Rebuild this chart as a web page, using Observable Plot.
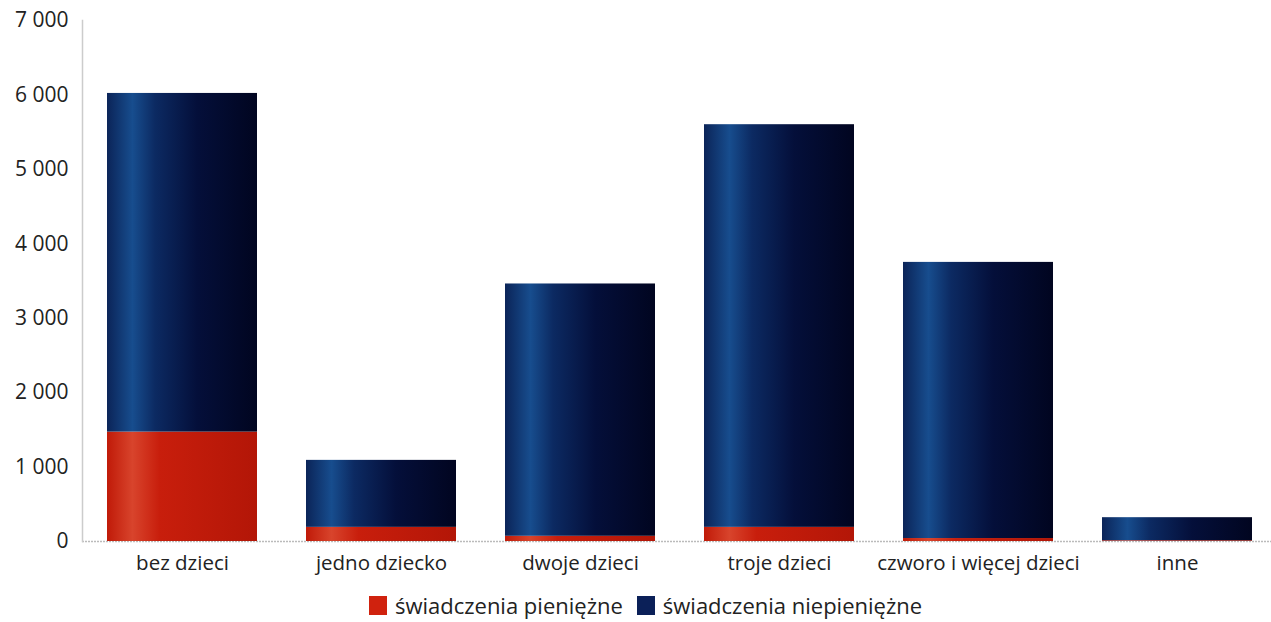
<!DOCTYPE html>
<html><head><meta charset="utf-8">
<script src="https://cdn.jsdelivr.net/npm/d3@7"></script>
<script src="https://cdn.jsdelivr.net/npm/@observablehq/plot@0.6"></script>
<style>
body{margin:0;background:#fff;font-family:"Open Sans",sans-serif;}
#legend{display:flex;justify-content:center;align-items:center;gap:14px;font-size:22px;color:#222;height:34px;margin-left:20px;margin-top:2px}
#legend span.item{display:flex;align-items:center;gap:8px}
#legend span.sw{display:inline-block;width:18px;height:19px}
</style></head><body>
<div id="chart"></div>
<div id="legend"></div>
<script>
const categories = ["bez dzieci","jedno dziecko","dwoje dzieci","troje dzieci","czworo i więcej dzieci","inne"];
const pieniezne = [1470, 190, 70, 190, 40, 10];
const niepieniezne = [4550, 900, 3390, 5410, 3710, 310];
const seriesNames = ["świadczenia pieniężne","świadczenia niepieniężne"];
const yTicks = [0,1000,2000,3000,4000,5000,6000,7000];

const rows = categories.map((c,i)=>({cat:c, p:pieniezne[i], n:niepieniezne[i], total:pieniezne[i]+niepieniezne[i]}));
const fmt = v => d3.format(",")(v).replace(/,/g," ");

const svg = Plot.plot({
  width:1271, height:586,
  marginLeft:82, marginRight:0, marginTop:20, marginBottom:45,
  style:{fontFamily:"Open Sans", fontSize:"20px", color:"#222", background:"transparent"},
  x:{domain:categories, paddingInner:0.246, paddingOuter:0.11, align:0.57, label:null},
  y:{domain:[0,7000], label:null},
  marks:[
    Plot.ruleY([0], {stroke:"#bbb", strokeDasharray:"2,1", strokeWidth:1.5}),
    Plot.barY(rows, {x:"cat", y1:0, y2:"p", fill:"url(#gRed)", inset:0}),
    Plot.barY(rows, {x:"cat", y1:"p", y2:"total", fill:"url(#gBlue)", inset:0}),
    Plot.axisY({ticks:yTicks, tickSize:0, tickPadding:14, tickFormat:fmt, fontSize:21, fill:"#222"}),
    Plot.axisX({tickSize:0, tickPadding:14, fontSize:20.5, fill:"#222"}),
    Plot.frame({anchor:"left", stroke:"#ccc", strokeDasharray:"2,1", strokeWidth:1.5})
  ]
});

const ns = "http://www.w3.org/2000/svg";
const defs = document.createElementNS(ns,"defs");
function grad(id, stops){
  const g = document.createElementNS(ns,"linearGradient");
  g.setAttribute("id",id); g.setAttribute("x1","0"); g.setAttribute("x2","1"); g.setAttribute("y1","0"); g.setAttribute("y2","0");
  for(const [o,c] of stops){const s=document.createElementNS(ns,"stop"); s.setAttribute("offset",o); s.setAttribute("stop-color",c); g.appendChild(s);}
  defs.appendChild(g);
}
grad("gBlue",[["0","#0b2458"],["0.17","#174d8e"],["0.32","#0c2a62"],["0.6","#040f3a"],["1","#010520"]]);
grad("gRed",[["0","#c01a08"],["0.17","#d8442c"],["0.35","#c81e0c"],["1","#b31607"]]);
svg.insertBefore(defs, svg.firstChild);
document.getElementById("chart").appendChild(svg);

const legendColors = ["#d0220e","#0b2058"];
document.getElementById("legend").innerHTML = seriesNames.map((s,i)=>
  `<span class="item"><span class="sw" style="background:${legendColors[i]}"></span>${s}</span>`).join("");
</script>
</body></html>
